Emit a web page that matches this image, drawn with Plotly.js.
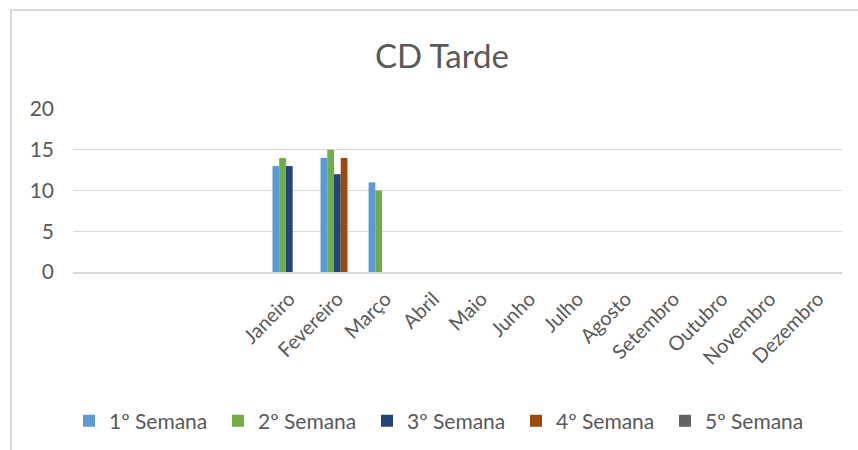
<!DOCTYPE html>
<html>
<head>
<meta charset="utf-8">
<script src="https://cdn.plot.ly/plotly-3.0.1.min.js"></script>
<style>
  html, body { margin: 0; padding: 0; background: #fff; overflow: hidden; }
  #chart { position: absolute; left: 0; top: 0; width: 858px; height: 450px; }
  #frame { position: absolute; left: 10px; top: 9px; width: 900px; height: 500px;
           border: 2px solid #d9d9d9; pointer-events: none; }
</style>
</head>
<body>
<div id="chart"></div>
<div id="frame"></div>
<script>
const months = ['Janeiro', 'Fevereiro', 'Março', 'Abril', 'Maio', 'Junho',
    'Julho', 'Agosto', 'Setembro', 'Outubro', 'Novembro', 'Dezembro'];

const semana1 = [13, 14, 11, null, null, null, null, null, null, null, null, null];
const semana2 = [14, 15, 10, null, null, null, null, null, null, null, null, null];
const semana3 = [13, 12, null, null, null, null, null, null, null, null, null, null];
const semana4 = [null, 14, null, null, null, null, null, null, null, null, null, null];
const semana5 = [null, null, null, null, null, null, null, null, null, null, null, null];

const seriesNames = ['1º Semana', '2º Semana', '3º Semana', '4º Semana', '5º Semana'];
const seriesColors = ['#5b9bd5', '#70ad47', '#264478', '#9e480e', '#636363'];

const txt = '#595959';
const font = 'Lato, "Open Sans", sans-serif';

const data = [semana1, semana2, semana3, semana4, semana5].map((vals, i) => ({
    type: 'bar',
    x: months,
    y: vals,
    name: seriesNames[i],
    marker: { color: seriesColors[i] },
    hoverinfo: 'x+y+name'
}));

const layout = {
    width: 858,
    height: 450,
    margin: { l: 73, r: 16, t: 109, b: 178 },
    paper_bgcolor: '#fff',
    plot_bgcolor: '#fff',
    font: { family: font, color: txt, size: 21 },
    title: {
        text: 'CD Tarde',
        font: { family: font, size: 33, color: txt },
        x: 442 / 858, xref: 'container', xanchor: 'center',
        y: 1 - 56 / 450, yref: 'container', yanchor: 'middle'
    },
    barmode: 'group',
    bargap: 0.3,
    bargroupgap: 0,
    xaxis: {
        type: 'category',
        range: [-4.5, 11.5],
        tickangle: -45,
        tickfont: { size: 20, color: txt },
        showgrid: false,
        showline: true,
        linecolor: '#d9d9d9',
        linewidth: 1.5,
        ticks: '',
        ticklabelstandoff: 6,
        fixedrange: true
    },
    yaxis: {
        range: [0, 20],
        dtick: 5,
        tickfont: { size: 21, color: txt },
        gridcolor: '#d9d9d9',
        gridwidth: 1.3,
        zeroline: false,
        ticks: '',
        ticklabelstandoff: 18,
        fixedrange: true
    },
    showlegend: true,
    legend: {
        orientation: 'h',
        xref: 'container', yref: 'container',
        x: 69 / 858, xanchor: 'left',
        y: 1 - 421 / 450, yanchor: 'middle',
        font: { size: 21, color: txt },
        entrywidth: 104,
        traceorder: 'normal'
    }
};

Plotly.newPlot('chart', data, layout, { displayModeBar: false, staticPlot: true });
</script>
</body>
</html>
